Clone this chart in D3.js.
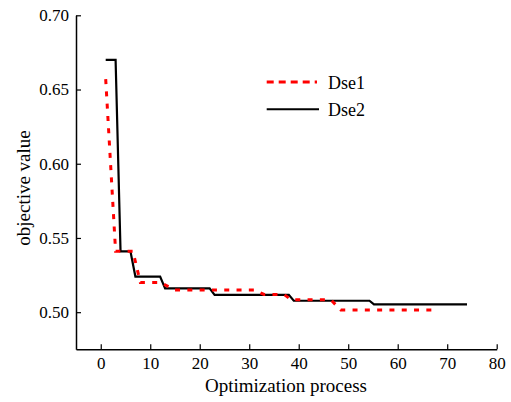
<!DOCTYPE html>
<html><head><meta charset="utf-8">
<script src="https://cdn.jsdelivr.net/npm/d3@7"></script>
<style>body{margin:0;background:#fff;} svg{display:block;}</style>
</head><body>
<svg id="c" width="511" height="402"></svg>
<script>
// Data
const dse1X = [1, 3, 6.5, 8, 12, 15, 31, 33, 37, 38.5, 46.5, 48.5, 67];
const dse1Y = [0.657, 0.541, 0.541, 0.520, 0.520, 0.515, 0.515, 0.512, 0.512, 0.5083, 0.5083, 0.5015, 0.5015];
const dse2X = [1, 3, 4, 6, 7, 12, 13, 22, 23, 38, 39, 54.3, 55.2, 74];
const dse2Y = [0.670, 0.670, 0.541, 0.541, 0.524, 0.524, 0.516, 0.516, 0.5117, 0.5117, 0.5077, 0.5077, 0.5052, 0.5052];
const xTicks = [0, 10, 20, 30, 40, 50, 60, 70, 80];
const yTicks = [0.50, 0.55, 0.60, 0.65, 0.70];
const seriesNames = ["Dse1", "Dse2"];

const svg = d3.select("#c");
const font = "Liberation Serif";
const x = d3.scaleLinear().domain([-5, 80]).range([76, 496.7]);
const y = d3.scaleLinear().domain([0.475, 0.70]).range([349.3, 15.3]);

// Axes
const xAxis = d3.axisBottom(x).tickValues(xTicks).tickSizeInner(-5).tickSizeOuter(0).tickPadding(8).tickFormat(d3.format("d"));
const yAxis = d3.axisLeft(y).tickValues(yTicks).tickSizeInner(-5).tickSizeOuter(0).tickPadding(7).tickFormat(d3.format(".2f"));
const gx = svg.append("g").attr("transform", `translate(0,${y.range()[0]})`).call(xAxis);
const gy = svg.append("g").attr("transform", `translate(${x.range()[0]},0)`).call(yAxis);
[gx, gy].forEach(g => {
  g.attr("font-family", font).attr("font-size", 17);
  g.select(".domain").attr("stroke", "#000").attr("stroke-width", 1.5);
  g.selectAll(".tick line").attr("stroke", "#000").attr("stroke-width", 1.2);
  g.selectAll(".tick text").attr("fill", "#000").attr("font-family", font).attr("font-size", 17);
});

// Lines
const line = d3.line().x(d => x(d[0])).y(d => y(d[1]));
svg.append("path").datum(dse2X.map((v, i) => [v, dse2Y[i]]))
  .attr("d", line).attr("fill", "none").attr("stroke", "#000").attr("stroke-width", 2.2);
svg.append("path").datum(dse1X.map((v, i) => [v, dse1Y[i]]))
  .attr("d", line).attr("fill", "none").attr("stroke", "#ff0000").attr("stroke-width", 3)
  .attr("stroke-dasharray", "5,7.3");

// Axis titles
svg.append("text").attr("x", 286).attr("y", 392).attr("text-anchor", "middle")
  .attr("font-family", font).attr("font-size", 19).text("Optimization process");
svg.append("text").attr("transform", "translate(30,188) rotate(-90)").attr("text-anchor", "middle")
  .attr("font-family", font).attr("font-size", 19).text("objective value");

// Legend
const leg = svg.append("g");
const legY = [82, 109.3];
leg.append("line").attr("x1", 266.7).attr("x2", 317).attr("y1", legY[0]).attr("y2", legY[0])
  .attr("stroke", "#ff0000").attr("stroke-width", 3).attr("stroke-dasharray", "7,5");
leg.append("line").attr("x1", 266.7).attr("x2", 319).attr("y1", legY[1]).attr("y2", legY[1])
  .attr("stroke", "#000").attr("stroke-width", 2);
seriesNames.forEach((n, i) => {
  leg.append("text").attr("x", 328).attr("y", legY[i] + 6.5)
    .attr("font-family", font).attr("font-size", 18).text(n);
});
</script>
</body></html>
